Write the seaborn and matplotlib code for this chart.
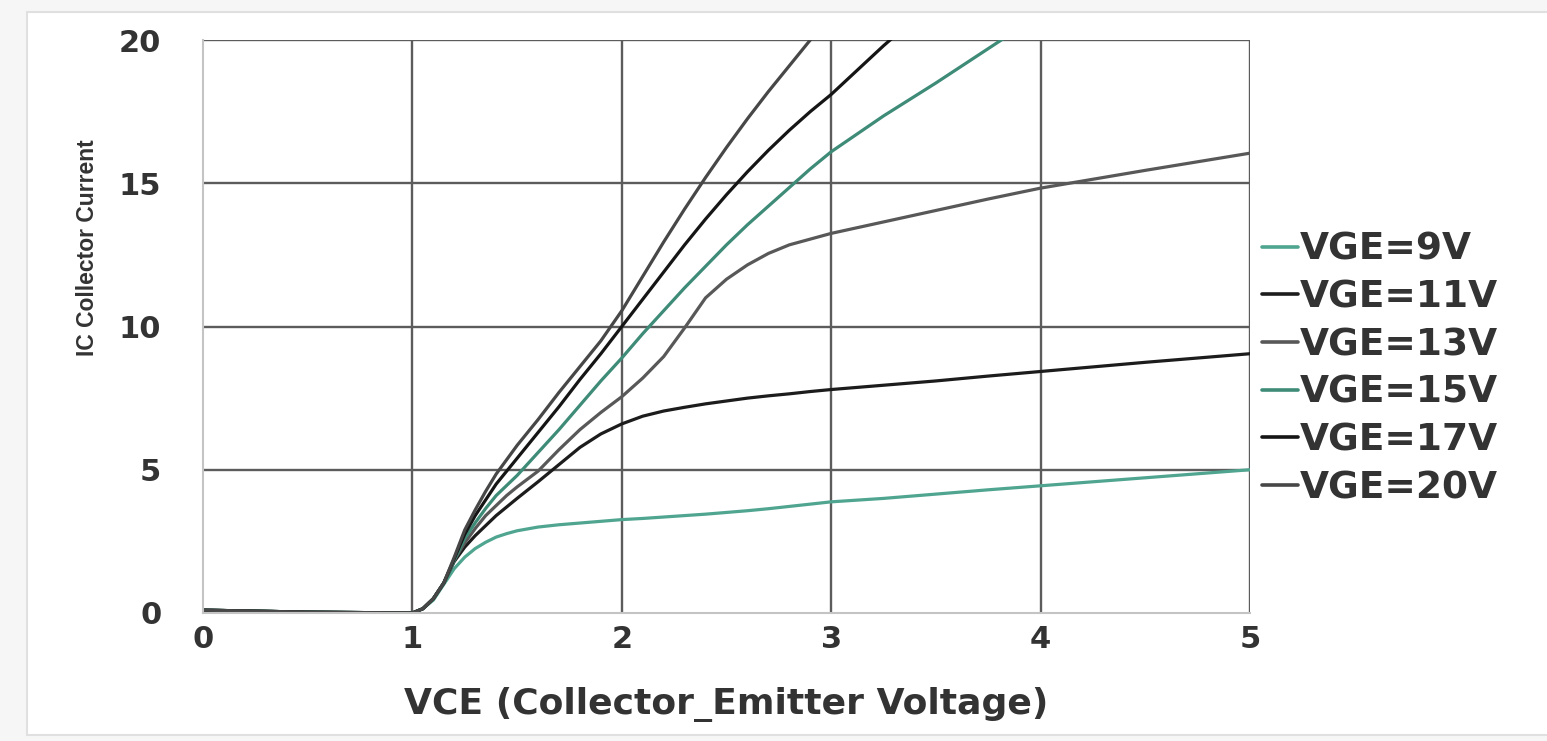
import numpy as np
import pandas as pd
import matplotlib
matplotlib.use("Agg")
import matplotlib.pyplot as plt
from matplotlib.patches import Rectangle
import seaborn as sns

# ---------------- data ----------------
nan = np.nan
VCE = [0, 0.5, 1.0, 1.05, 1.1, 1.15, 1.2,
       1.25, 1.3, 1.35, 1.4, 1.45, 1.5,
       1.6, 1.7, 1.8, 1.9, 2.0,
       2.1, 2.2, 2.3, 2.4, 2.5, 2.6, 2.7, 2.8, 2.9, 3.0,
       3.25, 3.5, 3.75, 4.0, 4.5, 5.0]
IC_9V = [0.1, 0.03, 0.0, 0.15, 0.45, 1.0, 1.55,
         1.95, 2.25, 2.47, 2.65, 2.77, 2.87,
         3.0, 3.08, 3.14, 3.2, 3.26,
         3.3, 3.35, 3.4, 3.45, 3.51, 3.57, 3.64, 3.72, 3.8, 3.88,
         4.0, 4.15, 4.3, 4.44, 4.72, 5.0]
IC_11V = [0.1, 0.03, 0.0, 0.15, 0.5, 1.05, 1.8,
          2.3, 2.7, 3.05, 3.4, 3.7, 4.0,
          4.58, 5.18, 5.78, 6.25, 6.6,
          6.87, 7.05, 7.18, 7.3, 7.4, 7.5, 7.58, 7.65, 7.73, 7.8,
          7.95, 8.1, 8.27, 8.43, 8.75, 9.05]
IC_13V = [0.1, 0.03, 0.0, 0.15, 0.5, 1.05, 1.85,
          2.45, 2.95, 3.4, 3.75, 4.1, 4.4,
          4.95, 5.7, 6.4, 7.0, 7.55,
          8.2, 8.95, 9.95, 11.0, 11.65, 12.15, 12.55, 12.85, 13.05, 13.25,
          13.65, 14.05, 14.45, 14.83, 15.45, 16.05]
IC_15V = [0.1, 0.03, 0.0, 0.15, 0.5, 1.05, 1.85,
          2.6, 3.15, 3.65, 4.1, 4.45, 4.8,
          5.6, 6.4, 7.25, 8.1, 8.9,
          9.75, 10.55, 11.35, 12.1, 12.85, 13.55, 14.2, 14.85, 15.5, 16.1,
          17.35, 18.5, 19.7, 20.9, nan, nan]
IC_17V = [0.1, 0.03, 0.0, 0.15, 0.5, 1.05, 1.9,
          2.75, 3.4, 3.95, 4.5, 4.95, 5.4,
          6.3, 7.2, 8.15, 9.05, 10.0,
          10.95, 11.9, 12.85, 13.75, 14.6, 15.4, 16.15, 16.85, 17.5, 18.1,
          19.8, 21.4, nan, nan, nan, nan]
IC_20V = [0.1, 0.03, 0.0, 0.15, 0.5, 1.05, 1.95,
          2.9, 3.6, 4.25, 4.85, 5.35, 5.85,
          6.75, 7.7, 8.6, 9.5, 10.55,
          11.75, 12.95, 14.1, 15.2, 16.25, 17.25, 18.2, 19.1, 20.0, 20.9,
          nan, nan, nan, nan, nan, nan]

SERIES = ["VGE=9V", "VGE=11V", "VGE=13V", "VGE=15V", "VGE=17V", "VGE=20V"]
VALUES = [IC_9V, IC_11V, IC_13V, IC_15V, IC_17V, IC_20V]
COLORS = ["#4fa590", "#1c1c1c", "#585858", "#3e8b78", "#151515", "#474747"]

X_TICKS = [0, 1, 2, 3, 4, 5]
Y_TICKS = [0, 5, 10, 15, 20]
X_LABEL = "VCE (Collector_Emitter Voltage)"
Y_LABEL = "IC Collector Current"

# ---------------- long-form table ----------------
rows = []
for name, vals in zip(SERIES, VALUES):
    for x, y in zip(VCE, vals):
        if not np.isnan(y):
            rows.append({"VCE": x, "IC": y, "series": name})
df = pd.DataFrame(rows)

# ---------------- figure ----------------
sns.set_theme(style="white")
plt.rcParams["font.family"] = ["DejaVu Sans"]
plt.rcParams["font.weight"] = "bold"

W, H = 1547, 741
fig = plt.figure(figsize=(W / 100, H / 100), dpi=100, facecolor="#f6f6f6")
fig.patches.append(Rectangle((27 / W, 6 / H), 1.0, (H - 18) / H, transform=fig.transFigure,
                             facecolor="white", edgecolor="#e0e0e0", lw=1.5, zorder=-5))

ax = fig.add_axes([203 / W, 1 - 613 / H, (1250 - 203) / W, (613 - 40) / H])
ax.set_facecolor("white")

sns.lineplot(data=df, x="VCE", y="IC", hue="series", hue_order=SERIES,
             palette=dict(zip(SERIES, COLORS)), estimator=None, sort=False,
             linewidth=2.3, ax=ax)

ax.set_xlim(X_TICKS[0], X_TICKS[-1])
ax.set_ylim(Y_TICKS[0], Y_TICKS[-1])
ax.set_xticks(X_TICKS)
ax.set_yticks(Y_TICKS)
ax.grid(False)
for v in X_TICKS[1:]:
    ax.axvline(v, color="#5c5c5c", lw=1.7, zorder=0.5)
for v in Y_TICKS[1:]:
    ax.axhline(v, color="#5c5c5c", lw=1.7, zorder=0.5)

for s in ["top", "right"]:
    ax.spines[s].set_visible(False)
for s in ["left", "bottom"]:
    ax.spines[s].set_color("#c4c4c4")
    ax.spines[s].set_linewidth(1.5)

ax.tick_params(axis="both", length=0, labelsize=22, labelcolor="#333333")
ax.tick_params(axis="x", pad=9)
ax.tick_params(axis="y", pad=30)
for lab in ax.get_xticklabels() + ax.get_yticklabels():
    lab.set_fontweight("bold")

ax.set_xlabel(X_LABEL, fontsize=26, fontweight="bold", color="#333333")
ax.xaxis.set_label_coords(0.5, -0.13)
ax.set_ylabel(Y_LABEL, fontsize=16.5, fontweight="bold", color="#333333",
              family=["Liberation Sans", "DejaVu Sans"])
ax.yaxis.set_label_coords(-0.099, 0.637)

handles, labels = ax.get_legend_handles_labels()
leg = ax.legend(handles, labels, loc="center left", bbox_to_anchor=(1262 / W, 1 - 369 / H),
                bbox_transform=fig.transFigure, frameon=False,
                prop={"family": "DejaVu Sans", "weight": "bold", "size": 27},
                handlelength=0.95, handletextpad=0.05, labelspacing=0.31,
                borderpad=0, borderaxespad=0, labelcolor="#333333")
for ln in leg.get_lines():
    ln.set_linewidth(2.6)

fig.savefig("out.png", dpi=100, facecolor=fig.get_facecolor())
